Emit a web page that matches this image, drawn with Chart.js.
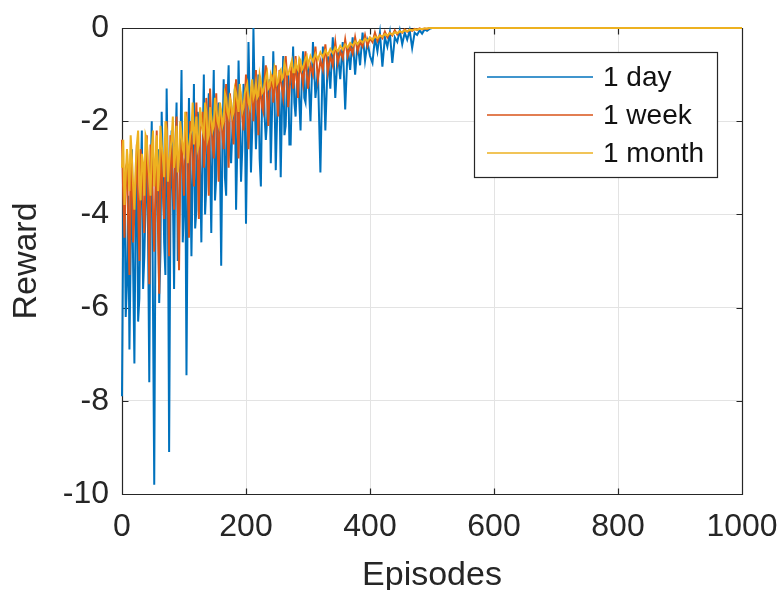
<!DOCTYPE html>
<html>
<head>
<meta charset="utf-8">
<script src="https://cdn.jsdelivr.net/npm/chart.js@4.4.0/dist/chart.umd.min.js"></script>
<style>
html,body{margin:0;padding:0;background:#fff;}
#wrap{width:781px;height:590px;position:relative;}
</style>
</head>
<body>
<div id="wrap"><canvas id="c" width="781" height="590"></canvas></div>
<script>
const episodes = [
0,2,4,6,8,10,12,14,16,18,
20,22,24,26,28,30,32,34,36,38,
40,42,44,46,48,50,52,54,56,58,
60,62,64,66,68,70,72,74,76,78,
80,82,84,86,88,90,92,94,96,98,
100,102,104,106,108,110,112,114,116,118,
120,122,124,126,128,130,132,134,136,138,
140,142,144,146,148,150,152,154,156,158,
160,162,164,166,168,170,172,174,176,178,
180,182,184,186,188,190,192,194,196,198,
200,202,204,206,208,210,212,214,216,218,
220,222,224,226,228,230,232,234,236,238,
240,242,244,246,248,250,252,254,256,258,
260,262,264,266,268,270,272,274,276,278,
280,282,284,286,288,290,292,294,296,298,
300,
304,308,312,316,
320,324,328,332,336,340,344,348,352,356,
360,364,368,372,376,380,384,388,392,396,
400,404,408,412,416,420,424,428,432,436,
440,444,448,452,456,460,464,468,472,476,
480,484,488,492,496,500,
1000];

const rewardDay = [
-7.9,-4.1,-3.2,-6.2,-5.5,-3.6,-6.9,-4.8,-2.6,-5.2,
-7.2,-3.9,-3.0,-6.3,-5.8,-3.4,-2.2,-5.6,-4.9,-3.8,
-2.5,-4.4,-7.6,-3.3,-2.0,-6.0,-9.8,-4.2,-3.1,-2.6,
-5.9,-4.8,-1.8,-3.0,-4.6,-5.3,-1.3,-3.4,-9.1,-4.0,
-2.2,-3.5,-5.6,-2.7,-1.6,-5.0,-4.3,-2.8,-0.9,-4.6,
-3.8,-2.5,-7.45,-3.6,-1.5,-2.9,-4.9,-3.1,-1.2,-4.3,
-3.9,-1.8,-2.0,-3.0,-4.6,-2.6,-1.0,-4.0,-3.4,-2.2,
-1.4,-2.9,-4.4,-2.3,-0.9,-3.7,-3.2,-1.9,-1.6,-2.8,
-5.1,-2.4,-1.1,-3.2,-3.6,-1.6,-0.8,-2.7,-2.9,-2.2,
-1.7,-1.3,-3.9,-2.5,-0.7,-2.0,-3.3,-2.6,-1.2,-1.7,
-4.2,-2.3,-0.3,-1.6,-3.1,-2.2,0.0,-1.5,-2.6,-1.9,
-1.0,-2.8,-3.4,-1.4,-0.6,-1.9,-2.4,-2.0,-1.3,-1.1,
-2.9,-1.8,-0.5,-1.5,-3.05,-2.0,-1.1,-1.4,-3.2,-1.7,
-0.6,-2.3,-2.1,-1.2,-1.0,-2.5,-2.5,-1.3,-0.4,-1.6,
-1.9,-1.2,-0.9,-1.6,-2.2,-1.1,-0.5,-1.5,-1.6,-1.0,
-0.8,
-2.0,-0.3,-1.5,-0.9,
-3.1,-0.4,-2.2,-0.6,-1.3,-0.2,-1.5,-0.5,-1.1,-0.3,
-1.75,-0.4,-0.9,-0.2,-1.0,-0.3,-0.8,-0.1,-0.7,-0.3,
-0.6,-0.75,-0.2,-0.5,-0.1,-0.83,-0.2,-0.4,-0.1,-0.75,
-0.2,-0.3,-0.05,-0.35,-0.1,-0.25,-0.05,-0.43,-0.1,-0.15,
-0.05,-0.12,-0.03,-0.06,-0.02,0,
0];

const rewardWeek = [
-2.4,-3.6,-4.5,-3.0,-2.9,-4.2,-5.3,-2.7,-3.2,-4.6,
-4.0,-3.3,-2.5,-3.8,-5.0,-2.6,-3.0,-3.9,-4.4,-3.1,
-2.3,-3.7,-5.5,-2.5,-2.8,-4.0,-4.8,-3.4,-2.2,-4.3,
-5.7,-2.4,-3.0,-3.6,-4.1,-2.8,-2.0,-3.5,-4.9,-2.3,
-2.6,-3.4,-3.9,-2.6,-1.9,-3.8,-5.2,-2.9,-2.4,-3.1,
-3.6,-2.2,-1.8,-3.3,-4.5,-2.0,-2.3,-2.9,-3.4,-2.4,
-1.6,-2.8,-4.1,-2.2,-2.1,-1.8,-3.0,-2.6,-1.5,-2.3,
-3.6,-1.3,-2.0,-2.5,-2.8,-2.0,-1.4,-2.4,-3.3,-1.7,
-1.9,-2.3,-2.6,-1.8,-1.2,-2.2,-3.0,-1.4,-1.7,-2.0,
-2.5,-1.8,-1.1,-1.9,-2.8,-1.3,-1.5,-1.9,-2.2,-1.6,
-1.0,-1.7,-2.6,-1.9,-1.4,-1.2,-2.0,-1.6,-0.9,-1.5,
-2.3,-1.4,-1.3,-1.7,-1.8,-1.1,-0.8,-1.5,-2.1,-1.4,
-1.2,-1.0,-1.6,-1.3,-0.8,-1.5,-1.9,-0.9,-1.1,-1.3,
-1.5,-1.2,-0.6,-1.0,-1.7,-1.4,-1.0,-0.8,-1.3,-1.1,
-0.6,-1.1,-1.5,-0.8,-0.9,-1.0,-1.2,-0.9,-0.5,-1.0,
-1.3,
-0.8,-1.0,-0.4,-1.1,
-0.7,-0.9,-0.35,-0.95,-0.6,-0.8,-0.3,-0.75,-0.5,-0.65,
-0.25,-0.6,-0.4,-0.55,-0.2,-0.5,-0.3,-0.4,-0.15,-0.38,
-0.22,-0.3,-0.1,-0.28,-0.15,-0.22,-0.08,-0.2,-0.1,-0.16,
-0.05,-0.14,-0.07,-0.1,-0.03,-0.08,-0.04,-0.06,-0.02,-0.04,
-0.01,-0.03,-0.01,-0.02,0,0,
0];

const rewardMonth = [
-3.0,-2.4,-3.8,-3.2,-2.6,-3.0,-3.5,-2.3,-2.8,-3.4,
-3.9,-3.0,-2.5,-2.2,-3.3,-3.7,-2.7,-2.9,-3.6,-2.3,
-2.4,-2.9,-3.2,-3.6,-2.6,-2.2,-3.4,-2.9,-2.3,-3.5,
-3.1,-2.1,-2.5,-2.8,-3.2,-2.0,-2.2,-3.3,-2.9,-2.6,
-2.4,-1.9,-3.0,-2.7,-2.1,-3.1,-2.8,-2.0,-2.3,-2.6,
-2.7,-1.8,-2.0,-2.9,-2.6,-2.3,-2.2,-1.6,-2.5,-2.2,
-1.9,-2.6,-2.5,-1.7,-2.0,-2.2,-2.3,-1.6,-1.8,-2.4,
-2.3,-1.7,-1.9,-2.2,-2.1,-1.5,-1.7,-2.0,-2.1,-1.6,
-1.8,-2.1,-2.0,-1.4,-1.5,-1.8,-1.9,-1.5,-1.6,-1.9,
-1.8,-1.3,-1.4,-1.6,-1.8,-1.2,-1.5,-1.8,-1.7,-1.4,
-1.3,-1.2,-1.6,-1.7,-1.35,-1.1,-1.5,-1.4,-1.2,-1.5,
-1.45,-1.0,-1.15,-1.4,-1.35,-1.2,-1.05,-0.95,-1.3,-1.25,
-1.0,-1.1,-1.2,-0.85,-0.95,-1.2,-1.15,-0.95,-0.9,-1.1,
-1.05,-0.75,-0.85,-1.0,-1.0,-0.9,-0.8,-0.7,-0.95,-0.95,
-0.75,-0.85,-0.9,-0.65,-0.7,-0.9,-0.85,-0.75,-0.65,-0.6,
-0.8,
-0.6,-0.72,-0.55,-0.68,
-0.52,-0.62,-0.48,-0.58,-0.45,-0.54,-0.42,-0.5,-0.38,-0.46,
-0.35,-0.42,-0.32,-0.38,-0.29,-0.35,-0.26,-0.31,-0.23,-0.28,
-0.2,-0.25,-0.18,-0.22,-0.16,-0.19,-0.13,-0.16,-0.11,-0.14,
-0.09,-0.11,-0.07,-0.09,-0.05,-0.07,-0.04,-0.05,-0.03,-0.03,
-0.02,-0.02,-0.01,-0.01,0,0,
0];

const seriesLabels = ['1 day', '1 week', '1 month'];
const seriesColors = ['#0072BD', '#D95319', '#EDB120'];
const xTicks = [0, 200, 400, 600, 800, 1000];
const yTicks = [-10, -8, -6, -4, -2, 0];

const FONT = "'Liberation Sans', Arial, Helvetica, sans-serif";
const AX = '#262626';

function pts(vals){ return episodes.map((x,i)=>({x:x, y:vals[i]})); }

const boxPlugin = {
  id: 'matlabBox',
  beforeDatasetsDraw(chart){
    const {ctx, chartArea:a, scales} = chart;
    ctx.save();
    ctx.strokeStyle = AX; ctx.lineWidth = 1.2;
    ctx.beginPath();
    const L = Math.round(a.left)+0.5, R = Math.round(a.right)+0.5, T = Math.round(a.top)+0.5, B = Math.round(a.bottom)+0.5;
    ctx.rect(L, T, R-L, B-T);
    const tl = 6;
    xTicks.forEach(v=>{
      const x = Math.round(scales.x.getPixelForValue(v))+0.5;
      ctx.moveTo(x, B); ctx.lineTo(x, B-tl);
      ctx.moveTo(x, T); ctx.lineTo(x, T+tl);
    });
    yTicks.forEach(v=>{
      const y = Math.round(scales.y.getPixelForValue(v))+0.5;
      ctx.moveTo(L, y); ctx.lineTo(L+tl, y);
      ctx.moveTo(R, y); ctx.lineTo(R-tl, y);
    });
    ctx.stroke();
    ctx.restore();
  },
  afterDraw(chart){
    const ctx = chart.ctx;
    const bx = 474.5, by = 52.5, bw = 243, bh = 125;
    ctx.save();
    ctx.fillStyle = '#fff';
    ctx.fillRect(bx, by, bw, bh);
    ctx.strokeStyle = AX; ctx.lineWidth = 1.2;
    ctx.strokeRect(bx, by, bw, bh);
    const rows = [77, 115, 153];
    chart.data.datasets.forEach((ds, i)=>{
      ctx.strokeStyle = ds.borderColor; ctx.lineWidth = 1.5;
      ctx.beginPath(); ctx.moveTo(487, rows[i]); ctx.lineTo(593, rows[i]); ctx.stroke();
      ctx.fillStyle = '#111';
      ctx.font = "28px " + FONT;
      ctx.textBaseline = 'middle'; ctx.textAlign = 'left';
      ctx.fillText(ds.label, 603, rows[i]+1);
    });
    ctx.restore();
  }
};

new Chart(document.getElementById('c'), {
  type: 'line',
  data: {
    datasets: [
      {label: seriesLabels[0], data: pts(rewardDay), borderColor: seriesColors[0], backgroundColor: seriesColors[0], borderWidth: 2, pointRadius: 0, tension: 0, order: 3, clip: 4},
      {label: seriesLabels[1], data: pts(rewardWeek), borderColor: seriesColors[1], backgroundColor: seriesColors[1], borderWidth: 2, pointRadius: 0, tension: 0, order: 2, clip: 4},
      {label: seriesLabels[2], data: pts(rewardMonth), borderColor: seriesColors[2], backgroundColor: seriesColors[2], borderWidth: 2, pointRadius: 0, tension: 0, order: 1, clip: 4}
    ]
  },
  options: {
    responsive: false,
    animation: false,
    events: [],
    layout: {padding: {left: 0, right: 39, top: 28, bottom: 0}},
    plugins: {legend: {display: false}, tooltip: {enabled: false}},
    scales: {
      x: {
        type: 'linear', min: 0, max: 1000,
        afterBuildTicks(s){ s.ticks = xTicks.map(v=>({value:v})); },
        afterFit(s){ s.height = 96; s.paddingLeft = 0; s.paddingRight = 0; },
        ticks: {font: {family: FONT, size: 32}, color: AX, padding: 14, maxRotation: 0, autoSkip: false, callback: v => String(v)},
        grid: {color: '#e3e3e3', lineWidth: 1, drawTicks: false},
        border: {display: false},
        title: {display: true, text: 'Episodes', font: {family: FONT, size: 34}, color: AX, padding: {top: 0, bottom: -6}}
      },
      y: {
        type: 'linear', min: -10, max: 0,
        afterBuildTicks(s){ s.ticks = yTicks.map(v=>({value:v})); },
        afterFit(s){ s.width = 122; s.paddingTop = 0; s.paddingBottom = 0; },
        ticks: {font: {family: FONT, size: 32}, color: AX, padding: 13, autoSkip: false, callback: v => String(v)},
        grid: {color: '#e3e3e3', lineWidth: 1, drawTicks: false},
        border: {display: false},
        title: {display: true, text: 'Reward', font: {family: FONT, size: 34}, color: AX, padding: {top: 6, bottom: 0}}
      }
    }
  },
  plugins: [boxPlugin]
});
</script>
</body>
</html>
